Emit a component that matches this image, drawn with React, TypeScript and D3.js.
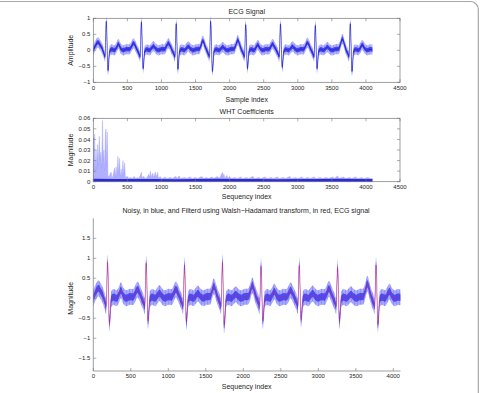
import React from 'react';
import * as d3 from 'd3';

// ---------- DATA ----------
// Clean ECG waveform knots (sample index, amplitude)
const ecgIdx = [
  0, 20, 45, 70, 95, 120, 150, 172, 190, 216, 240,
  270, 310, 340, 368, 400, 440, 490, 530, 560, 589, 625, 650, 665, 687, 705, 731, 755,
  785, 825, 855, 883, 915, 955, 1005, 1045, 1072, 1100, 1136, 1161, 1176, 1198, 1216, 1242, 1266,
  1296, 1336, 1366, 1394, 1426, 1466, 1516, 1556, 1580, 1606, 1642, 1667, 1682, 1704, 1722, 1748, 1772,
  1802, 1842, 1872, 1900, 1932, 1972, 2022, 2062, 2092, 2120, 2156, 2181, 2196, 2218, 2236, 2262, 2286,
  2316, 2356, 2386, 2414, 2446, 2486, 2536, 2576, 2604, 2630, 2666, 2691, 2706, 2728, 2746, 2772, 2796,
  2826, 2866, 2896, 2924, 2956, 2996, 3046, 3086, 3114, 3141, 3177, 3202, 3217, 3239, 3257, 3283, 3307,
  3337, 3377, 3407, 3435, 3467, 3507, 3557, 3597, 3626, 3654, 3690, 3715, 3730, 3752, 3770, 3796, 3820,
  3850, 3890, 3920, 3948, 3980, 4020, 4060, 4095,
];
const ecgVal = [
  0.0, 0.1, 0.2, 0.25, 0.18, 0.1, -0.06, -0.2, 0.9, -0.63, -0.02,
  0.03, 0.0, 0.08, 0.2, 0.06, 0.0, 0.04, 0.03, 0.12, 0.22, 0.1, -0.02, -0.08, -0.2, 0.88, -0.57, -0.02,
  0.03, 0.0, 0.07, 0.13, 0.05, 0.0, 0.04, 0.03, 0.12, 0.22, 0.1, -0.02, -0.08, -0.2, 0.83, -0.59, -0.02,
  0.03, 0.0, 0.06, 0.12, 0.05, 0.0, 0.04, 0.04, 0.15, 0.3, 0.12, -0.02, -0.08, -0.2, 0.9, -0.66, -0.02,
  0.03, 0.0, 0.05, 0.1, 0.04, 0.0, 0.04, 0.04, 0.16, 0.32, 0.12, -0.02, -0.08, -0.2, 0.8, -0.57, -0.02,
  0.03, 0.0, 0.08, 0.17, 0.06, 0.0, 0.04, 0.03, 0.11, 0.2, 0.08, -0.02, -0.08, -0.2, 0.82, -0.53, -0.02,
  0.03, 0.0, 0.06, 0.12, 0.05, 0.0, 0.04, 0.03, 0.13, 0.24, 0.1, -0.02, -0.08, -0.2, 0.77, -0.57, -0.02,
  0.03, 0.0, 0.05, 0.1, 0.04, 0.0, 0.04, 0.04, 0.18, 0.36, 0.14, -0.02, -0.08, -0.2, 0.83, -0.66, -0.02,
  0.03, 0.0, 0.08, 0.17, 0.06, 0.0, 0.03, 0.02,
];
// Noise spread of the noisy signal (half widths, amplitude units)
const noiseOuter = 0.16;
const noiseInner = 0.07;

// WHT coefficient magnitudes (sequency index, magnitude) envelope of the stems
const whtIdx = [
  0, 6, 12, 20, 28, 40, 50, 62, 72, 88, 100, 112, 122, 135, 145, 155, 165, 178, 186, 196, 205, 215,
  230, 250, 262, 272, 290, 312, 322, 335, 345, 362, 370, 385, 395, 410, 420, 435, 445, 460, 470,
  500, 520, 540, 570, 600, 625, 650, 670, 690, 705, 715, 740, 760, 790, 812, 825, 838, 848, 870, 885,
  910, 925, 944, 955, 980, 1000,
  1020, 1050, 1080, 1130, 1160, 1210, 1230, 1260, 1280, 1340, 1370, 1420, 1450, 1500, 1530, 1590, 1620,
  1660, 1690, 1740, 1770, 1820, 1850, 1880, 1895, 1905, 1915, 1930, 1960, 1975, 2000, 2020, 2080, 2110,
  2160, 2190, 2250, 2280, 2340, 2370, 2430, 2460, 2520, 2550, 2610, 2640, 2700, 2730, 2790, 2820, 2880,
  2910, 2970, 3000, 3060, 3090, 3150, 3180, 3240, 3270, 3330, 3360, 3420, 3450, 3510, 3540, 3580, 3610,
  3670, 3700, 3760, 3790, 3850, 3880, 3940, 3970, 4030, 4060, 4095,
];
const whtVal = [
  0.003, 0.042, 0.008, 0.045, 0.01, 0.03, 0.012, 0.035, 0.015, 0.043, 0.02, 0.028, 0.012, 0.058, 0.02, 0.03, 0.01, 0.045, 0.05, 0.015, 0.047, 0.006,
  0.004, 0.008, 0.009, 0.003, 0.006, 0.013, 0.004, 0.014, 0.004, 0.024, 0.008, 0.022, 0.005, 0.012, 0.004, 0.02, 0.006, 0.018, 0.004,
  0.005, 0.003, 0.004, 0.003, 0.005, 0.003, 0.004, 0.003, 0.006, 0.009, 0.004, 0.005, 0.003, 0.004, 0.007, 0.004, 0.01, 0.004, 0.008, 0.004,
  0.009, 0.004, 0.009, 0.003, 0.005, 0.003,
  0.003, 0.0045, 0.003, 0.004, 0.003, 0.005, 0.003, 0.0055, 0.003, 0.004, 0.003, 0.0045, 0.003, 0.004, 0.003, 0.005, 0.003,
  0.004, 0.003, 0.0045, 0.003, 0.005, 0.003, 0.007, 0.009, 0.004, 0.0075, 0.003, 0.006, 0.003, 0.005, 0.003, 0.004, 0.003,
  0.0045, 0.003, 0.004, 0.003, 0.005, 0.003, 0.004, 0.003, 0.0045, 0.003, 0.004, 0.003, 0.0045, 0.003, 0.004, 0.003, 0.005,
  0.003, 0.004, 0.003, 0.0045, 0.003, 0.004, 0.003, 0.0045, 0.003, 0.004, 0.003, 0.004, 0.003, 0.0045, 0.003, 0.0055, 0.003,
  0.0045, 0.003, 0.004, 0.003, 0.0045, 0.003, 0.004, 0.003, 0.004, 0.003, 0.003,
];
// Dark noise floor of WHT coefficients
const whtFloorIdx = [0, 300, 600, 900, 1200, 1500, 1800, 2100, 2400, 2700, 3000, 3300, 3600, 3900, 4095];
const whtFloorVal = [0.0028, 0.0026, 0.0025, 0.0026, 0.0024, 0.0026, 0.0027, 0.0025, 0.0026, 0.0024, 0.0026, 0.0025, 0.0027, 0.0025, 0.0026];

// Tick values
const topXTicks = [0, 500, 1000, 1500, 2000, 2500, 3000, 3500, 4000, 4500];
const topYTicks = [-1, -0.5, 0, 0.5, 1];
const midYTicks = [0, 0.01, 0.02, 0.03, 0.04, 0.05, 0.06];
const botXTicks = [0, 500, 1000, 1500, 2000, 2500, 3000, 3500, 4000];
const botYTicks = [-1.5, -1, -0.5, 0, 0.5, 1, 1.5];

// Titles and labels
const title1 = 'ECG Signal';
const title2 = 'WHT Coefficients';
const title3 = 'Noisy, in blue, and Filterd using Walsh\u2212Hadamard transform, in red, ECG signal';

// ---------- DRAWING ----------
const FONT = "'Liberation Sans', Arial, Helvetica, sans-serif";
const AX = '#767676';
const TXT = '#262626';

const fmt = (v: number) => (v < 0 ? '\u2212' : '') + String(Math.abs(v));

type Sc = d3.ScaleLinear<number, number>;

function Axes({ x, y, xTicks, yTicks, box }: { x: Sc; y: Sc; xTicks: number[]; yTicks: number[]; box: boolean }) {
  const [x0, x1] = x.range();
  const [yb, yt] = y.range();
  const tl = 3;
  return (
    <g>
      {box ? (
        <rect x={x0} y={yt} width={x1 - x0} height={yb - yt} fill="none" stroke={AX} strokeWidth={0.7} />
      ) : (
        <g>
          <line x1={x0} x2={x0} y1={yt} y2={yb} stroke={AX} strokeWidth={0.7} />
          <line x1={x0} x2={x1} y1={yb} y2={yb} stroke={AX} strokeWidth={0.7} />
        </g>
      )}
      {xTicks.map((t) => (
        <g key={'x' + t}>
          <line x1={x(t)} x2={x(t)} y1={yb} y2={yb - tl} stroke={AX} strokeWidth={0.6} />
          {box && <line x1={x(t)} x2={x(t)} y1={yt} y2={yt + tl} stroke={AX} strokeWidth={0.6} />}
          <text x={x(t)} y={yb + 7.2} fontSize={6} textAnchor="middle" fill={TXT} fontFamily={FONT}>
            {fmt(t)}
          </text>
        </g>
      ))}
      {yTicks.map((t) => (
        <g key={'y' + t}>
          <line x1={x0} x2={x0 + tl} y1={y(t)} y2={y(t)} stroke={AX} strokeWidth={0.6} />
          {box && <line x1={x1} x2={x1 - tl} y1={y(t)} y2={y(t)} stroke={AX} strokeWidth={0.6} />}
          <text x={x0 - 3} y={y(t) + 2.1} fontSize={6} textAnchor="end" fill={TXT} fontFamily={FONT}>
            {fmt(t)}
          </text>
        </g>
      ))}
    </g>
  );
}

export default function App() {
  const W = 480;
  const H = 393;
  const ecg = ecgIdx.map((d, i) => [d, ecgVal[i]] as [number, number]);
  const wht = whtIdx.map((d, i) => [d, whtVal[i]] as [number, number]);
  const floor = whtFloorIdx.map((d, i) => [d, whtFloorVal[i]] as [number, number]);

  const x1 = d3.scaleLinear().domain([0, 4500]).range([93.3, 400]);
  const y1 = d3.scaleLinear().domain([-1, 1]).range([82.3, 18.3]);
  const x2 = d3.scaleLinear().domain([0, 4500]).range([93.3, 400]);
  const y2 = d3.scaleLinear().domain([0, 0.06]).range([181.7, 118.3]);
  const x3 = d3.scaleLinear().domain([0, 4096]).range([93.3, 400.5]);
  const y3 = d3.scaleLinear().domain([-1.82, 2.0]).range([371, 218.3]);

  const band = (x: Sc, y: Sc, w: number) =>
    d3
      .area<[number, number]>()
      .x((d) => x(d[0]))
      .y0((d) => y(d[1] - w))
      .y1((d) => y(d[1] + w))
      .curve(d3.curveMonotoneX);
  const line = (x: Sc, y: Sc) =>
    d3
      .line<[number, number]>()
      .x((d) => x(d[0]))
      .y((d) => y(d[1]))
      .curve(d3.curveMonotoneX);

  const whtArea = d3
    .area<[number, number]>()
    .x((d) => x2(d[0]))
    .y0(y2(0))
    .y1((d) => y2(d[1]));
  const floorArea = d3
    .area<[number, number]>()
    .x((d) => x2(d[0]))
    .y0(y2(0))
    .y1((d) => y2(d[1]));

  return (
    <svg width={W} height={H} style={{ position: 'absolute', left: 0, top: 0, background: '#fff' }}>
      <defs>
        <pattern id="texTop" patternUnits="userSpaceOnUse" width={3} height={5}>
          <rect width={3} height={5} fill="#babaff" />
          <line x1={0.6} x2={0.6} y1={0} y2={5} stroke="#8080f6" strokeWidth={0.55} />
          <line x1={2.1} x2={2.1} y1={1} y2={4} stroke="#9a9afa" strokeWidth={0.5} />
        </pattern>
        <pattern id="texBot" patternUnits="userSpaceOnUse" width={3} height={5}>
          <rect width={3} height={5} fill="#b0b0ff" />
          <line x1={0.6} x2={0.6} y1={0} y2={5} stroke="#7474f4" strokeWidth={0.55} />
          <line x1={2.1} x2={2.1} y1={1} y2={4} stroke="#9090f8" strokeWidth={0.5} />
        </pattern>
      </defs>
      <rect x={0} y={0} width={W} height={H} fill="#fff" />
      <path d="M0,1.5 H470 A8,8 0 0 1 478.3,9.5 V393" fill="none" stroke="#a8a8a8" strokeWidth={1.2} />

      {/* ---- Panel 1 ---- */}
      <text x={246.7} y={14} fontSize={7} textAnchor="middle" fill={TXT} fontFamily={FONT}>{title1}</text>
      <path d={band(x1, y1, noiseOuter)(ecg) || ''} fill="url(#texTop)" />
      <path d={band(x1, y1, noiseInner)(ecg) || ''} fill="#3a3ae8" fillOpacity={0.9} />
      <path d={line(x1, y1)(ecg) || ''} fill="none" stroke="#1414c8" strokeWidth={0.6} />
      <Axes x={x1} y={y1} xTicks={topXTicks} yTicks={topYTicks} box={true} />
      <text x={246.7} y={101.5} fontSize={7} textAnchor="middle" fill={TXT} fontFamily={FONT}>Sample index</text>
      <text transform="translate(73.2,50.3) rotate(-90)" fontSize={7} textAnchor="middle" fill={TXT} fontFamily={FONT}>Amplitude</text>

      {/* ---- Panel 2 ---- */}
      <text x={246.7} y={113.7} fontSize={7} textAnchor="middle" fill={TXT} fontFamily={FONT}>{title2}</text>
      <path d={whtArea(wht) || ''} fill="#b0b0ff" stroke="#a0a0ff" strokeWidth={0.4} />
      <path d={floorArea(floor) || ''} fill="#2a2ade" />
      <Axes x={x2} y={y2} xTicks={topXTicks} yTicks={midYTicks} box={true} />
      <text x={246.7} y={198.5} fontSize={7} textAnchor="middle" fill={TXT} fontFamily={FONT}>Sequency index</text>
      <text transform="translate(73.2,150) rotate(-90)" fontSize={7} textAnchor="middle" fill={TXT} fontFamily={FONT}>Magnitude</text>

      {/* ---- Panel 3 ---- */}
      <text x={246} y={213} fontSize={7} textAnchor="middle" fill={TXT} fontFamily={FONT}>{title3}</text>
      <path d={band(x3, y3, noiseOuter + 0.04)(ecg) || ''} fill="url(#texBot)" />
      <path d={band(x3, y3, noiseInner + 0.02)(ecg) || ''} fill="#3c3cee" fillOpacity={0.85} />
      <path d={line(x3, y3)(ecg) || ''} fill="none" stroke="#d0206a" strokeOpacity={0.5} strokeWidth={1.0} />
      <Axes x={x3} y={y3} xTicks={botXTicks} yTicks={botYTicks} box={false} />
      <text x={246.7} y={388.5} fontSize={7} textAnchor="middle" fill={TXT} fontFamily={FONT}>Sequency index</text>
      <text transform="translate(73.2,298.3) rotate(-90)" fontSize={7} textAnchor="middle" fill={TXT} fontFamily={FONT}>Magnitude</text>
    </svg>
  );
}
